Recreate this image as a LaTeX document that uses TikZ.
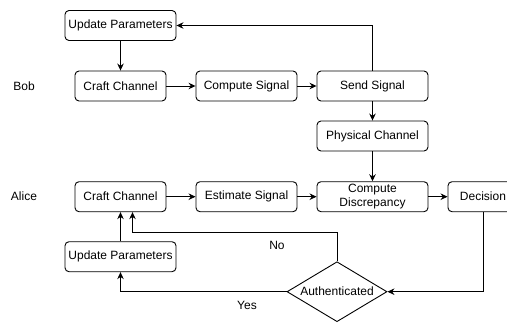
\documentclass[tikz,border=0pt]{standalone}
\usepackage{fontspec}
\setmainfont{Liberation Sans}
\usetikzlibrary{shapes.geometric,arrows.meta}
\begin{document}
\begin{tikzpicture}[x=1pt,y=-1pt,
  txt/.style={font=\fontsize{12}{14}\selectfont, align=center},
  box/.style={txt, draw, rounded corners=4pt, line width=0.9pt, inner sep=0pt, minimum height=30pt},
  wide/.style={box, minimum width=111pt},
  mid/.style={box, minimum width=101pt},
  narrow/.style={box, minimum width=91pt},
  decide/.style={txt, draw, diamond, line width=0.9pt, inner sep=0pt, shape aspect=1.667, minimum width=100pt, minimum height=60pt},
  arr/.style={-{Stealth[length=7pt,width=6.5pt]}, line width=0.9pt},
  lbl/.style={txt}
]
\useasboundingbox (0,0) rectangle (507,322);
\clip (0,0) rectangle (507,322);

% Bob's side
\node[lbl] (bob) at (24,86) {Bob};
\node[wide] (upB) at (120.5,25.5) {Update Parameters};
\node[narrow] (craftB) at (120.5,86) {Craft Channel};
\node[mid] (compB) at (246.5,86) {Compute Signal};
\node[wide] (sendB) at (372.5,86) {Send Signal};
\node[wide] (phys) at (372.5,136) {Physical Channel};

% Alice's side
\node[lbl] (alice) at (24,196.7) {Alice};
\node[narrow] (craftA) at (120.5,196.7) {Craft Channel};
\node[mid] (estA) at (246.5,196.7) {Estimate Signal};
\node[wide] (discA) at (372.5,196.7) {Compute\\Discrepancy};
\node[box, minimum width=70pt] (dec) at (483,196.7) {Decision};
\node[wide] (upA) at (120.5,256.7) {Update Parameters};
\node[decide] (auth) at (337,291.7) {Authenticated};

% Bob's flow
\draw[arr] (upB) -- (craftB);
\draw[arr] (craftB) -- (compB);
\draw[arr] (compB) -- (sendB);
\draw[arr] (sendB.north) |- (upB.east);
\draw[arr] (sendB) -- (phys);
\draw[arr] (phys) -- (discA);

% Alice's flow
\draw[arr] (craftA) -- (estA);
\draw[arr] (estA) -- (discA);
\draw[arr] (discA) -- (dec);
\draw[arr] (dec.south) |- (auth.east);
\draw[arr] (auth.north) |- ([xshift=12pt,yshift=-20pt]craftA.south) -- ([xshift=12pt]craftA.south);
\draw[arr] (auth.west) -| (upA.south);
\draw[arr] (upA) -- (craftA);

\node[lbl] (no) at (277,245.7) {No};
\node[lbl] (yes) at (247,305.7) {Yes};
\end{tikzpicture}
\end{document}
